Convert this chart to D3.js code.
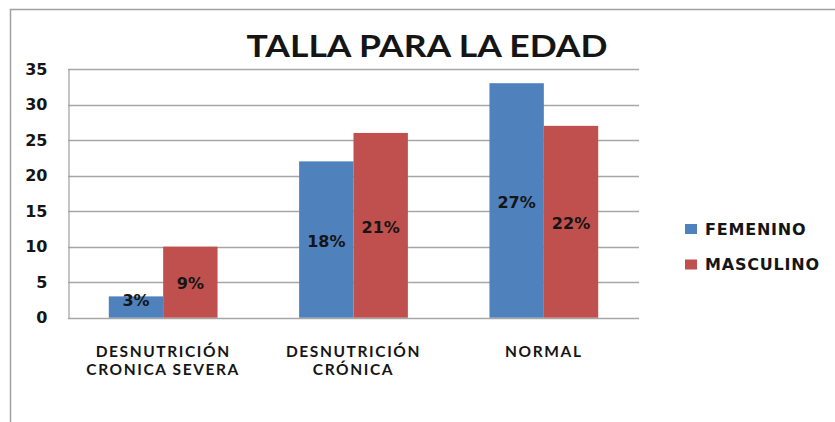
<!DOCTYPE html>
<html>
<head>
<meta charset="utf-8">
<script src="https://cdn.jsdelivr.net/npm/d3@7"></script>
<style>
  html, body { margin: 0; padding: 0; background: #fff; }
  svg { display: block; }
</style>
</head>
<body>
<div id="canvas"></div>
<script>
/* Data */
const CATEGORIES = ["DESNUTRICIÓN|CRONICA SEVERA", "DESNUTRICIÓN|CRÓNICA", "NORMAL"]
const SERIES = ["FEMENINO", "MASCULINO"]
const FEMENINO = [3, 22, 33]
const MASCULINO = [10, 26, 27]
const FEMENINO_LABELS = ["3%", "18%", "27%"]
const MASCULINO_LABELS = ["9%", "21%", "22%"]
const Y_TICKS = [0, 5, 10, 15, 20, 25, 30, 35]

/* Layout constants */
const WIDTH = 835
const HEIGHT = 422
const PLOT = {"LEFT": 68, "RIGHT": 639, "TOP": 69, "BOTTOM": 317.7}
const COLORS = {"FEMENINO": "#4F81BD", "MASCULINO": "#C0504D"}
const GRID = "#a6a6a6"
const TEXT = "#151515"
const NUM_FONT = "'DejaVu Sans', Verdana, sans-serif"
const CAT_FONT = "Lato, 'Open Sans', sans-serif"

const svg = d3.select("#canvas")
              .append("svg")
              .attr("width", WIDTH)
              .attr("height", HEIGHT);

// outer chart frame (runs off the right and bottom edges)
svg.append("rect")
   .attr("x", 10.5).attr("y", 9.5)
   .attr("width", 900).attr("height", 500)
   .attr("fill", "none")
   .attr("stroke", "#a0a0a0")
   .attr("stroke-width", 1.5);

const x = d3.scaleBand()
            .domain(CATEGORIES)
            .range([PLOT.LEFT, PLOT.RIGHT])
            .padding(0);
// gap width 150% -> outer padding of 0.75 bar on each side
const inner = d3.scaleBand()
                .domain(SERIES)
                .range([0, x.bandwidth()])
                .paddingInner(0)
                .paddingOuter(0.75);
const y = d3.scaleLinear()
            .domain([0, 35])
            .range([PLOT.BOTTOM, PLOT.TOP]);

// gridlines
svg.append("g")
   .selectAll("line")
   .data(Y_TICKS)
   .enter()
   .append("line")
   .attr("x1", PLOT.LEFT).attr("x2", PLOT.RIGHT)
   .attr("y1", (d) => Math.round(y(d)) + 0.5)
   .attr("y2", (d) => Math.round(y(d)) + 0.5)
   .attr("stroke", GRID)
   .attr("stroke-width", 1.3);

// y axis
const yAxis = d3.axisLeft(y).tickValues(Y_TICKS).tickSize(0).tickPadding(21);
const yG = svg.append("g")
              .attr("transform", "translate(" + (PLOT.LEFT + 0.5) + ",0)")
              .call(yAxis);
yG.select(".domain").attr("stroke", GRID).attr("stroke-width", 1.3);
yG.selectAll("text")
  .attr("font-family", NUM_FONT)
  .attr("font-weight", "bold")
  .attr("font-size", 16)
  .attr("fill", TEXT);

// bars
const rows = CATEGORIES.map((c, i) => ({"cat": c, "values": [
  {"key": "FEMENINO", "value": FEMENINO[i], "label": FEMENINO_LABELS[i]},
  {"key": "MASCULINO", "value": MASCULINO[i], "label": MASCULINO_LABELS[i]}
]}));

const groups = svg.append("g")
                  .selectAll("g")
                  .data(rows)
                  .enter()
                  .append("g")
                  .attr("transform", (d) => "translate(" + x(d.cat) + ",0)");

groups.selectAll("rect")
      .data((d) => d.values)
      .enter()
      .append("rect")
      .attr("x", (d) => inner(d.key))
      .attr("width", inner.bandwidth())
      .attr("y", (d) => y(d.value))
      .attr("height", (d) => y(0) - y(d.value))
      .attr("fill", (d) => COLORS[d.key]);

groups.selectAll("text")
      .data((d) => d.values)
      .enter()
      .append("text")
      .attr("x", (d) => inner(d.key) + inner.bandwidth() / 2)
      .attr("y", (d) => Math.min((y(d.value) + y(0)) / 2 + 1.5, y(0) - 17))
      .attr("dy", "0.36em")
      .attr("text-anchor", "middle")
      .attr("font-family", NUM_FONT)
      .attr("font-weight", "bold")
      .attr("font-size", 16)
      .attr("fill", TEXT)
      .text((d) => d.label);

// category labels, one text per line
const catLines = [];
CATEGORIES.forEach((c) => c.split("|").forEach((line, i) => catLines.push({"cat": c, "line": line, "row": i})));
svg.append("g")
   .selectAll("text")
   .data(catLines)
   .enter()
   .append("text")
   .attr("x", (d) => x(d.cat) + x.bandwidth() / 2)
   .attr("y", (d) => 356.5 + d.row * 18.6)
   .attr("text-anchor", "middle")
   .attr("font-family", CAT_FONT)
   .attr("font-weight", "bold")
   .attr("font-size", 15.5)
   .attr("letter-spacing", "1.6px")
   .attr("fill", TEXT)
   .text((d) => d.line);

// title
svg.append("text")
   .attr("x", 427)
   .attr("y", 57)
   .attr("text-anchor", "middle")
   .attr("font-family", CAT_FONT)
   .attr("font-weight", "bold")
   .attr("font-size", 31)
   .attr("textLength", 361)
   .attr("lengthAdjust", "spacingAndGlyphs")
   .attr("fill", TEXT)
   .text("TALLA PARA LA EDAD");

// legend
const legend = svg.append("g")
                  .selectAll("g")
                  .data(SERIES)
                  .enter()
                  .append("g")
                  .attr("transform", (d, i) => "translate(685," + (224 + i * 35.5) + ")");
legend.append("rect")
      .attr("width", 12)
      .attr("height", 10)
      .attr("fill", (d) => COLORS[d]);
legend.append("text")
      .attr("x", 20)
      .attr("y", 5)
      .attr("dy", "0.36em")
      .attr("font-family", NUM_FONT)
      .attr("font-weight", "bold")
      .attr("font-size", 16)
      .attr("letter-spacing", "0.8px")
      .attr("fill", TEXT)
      .text((d) => d);
</script>
</body>
</html>
